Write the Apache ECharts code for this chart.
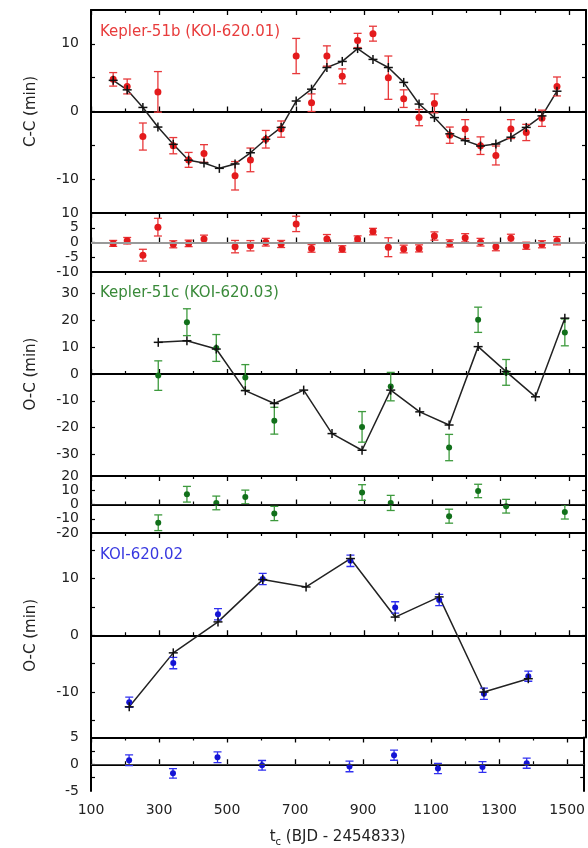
<!DOCTYPE html>
<html><head><meta charset="utf-8">
<script src="https://cdn.jsdelivr.net/npm/echarts@6/dist/echarts.min.js"></script>
<style>html,body{margin:0;padding:0;background:#fff}#c{width:588px;height:848px}</style>
</head><body><div id="c"></div>
<script>
// ---------- Kepler-51b (KOI-620.01) ----------
const tB = [165,206,252,296,341,386,431,476,522,567,612,657,701,746,791,836,881,926,971,1016,1061,1106,1151,1196,1241,1286,1330,1375,1421,1465];
const modelB = [4.6,3.2,0.6,-2.3,-4.85,-7.2,-7.6,-8.4,-7.75,-6.1,-4.1,-2.35,1.55,3.3,6.5,7.4,9.3,7.7,6.5,4.3,1.1,-0.9,-3.3,-4.3,-5.1,-4.8,-3.8,-2.35,-0.65,3.0];
const obsB = [4.75,3.7,-3.7,2.9,-5.05,-7.15,-6.2,null,-9.5,-7.15,-4.1,-2.6,8.2,1.3,8.2,5.2,10.5,11.5,5.0,1.9,-0.9,1.2,-3.5,-2.6,-5.05,-6.5,-2.6,-3.1,-1.0,3.7];
const errB = [1.0,1.1,2.0,3.0,1.2,1.1,1.3,null,2.1,1.75,1.3,1.2,2.6,1.3,1.5,1.1,1.05,1.1,3.2,1.3,1.2,1.4,1.2,1.4,1.3,1.4,1.4,1.2,1.2,1.4];
const resB = [-0.3,0.6,-4.3,5.2,-0.6,-0.3,1.2,null,-1.4,-1.1,0.1,-0.5,6.3,-2.0,1.2,-2.2,1.2,3.7,-1.6,-2.2,-2.0,2.2,-0.3,1.6,0.1,-1.4,1.4,-1.1,-0.6,0.6];

// ---------- Kepler-51c (KOI-620.03) ----------
const tC = [297,381,467,552,637,723,806,894,978,1063,1149,1234,1316,1402,1488];
const modelC = [11.8,12.4,9.3,-6.2,-11.0,-6.0,-22.2,-28.4,-6.0,-14.1,-19.0,10.2,0.9,-8.5,20.8];
const obsC = [-0.6,19.3,9.7,-1.3,-17.4,null,null,-19.7,-4.7,null,-27.4,20.2,0.6,null,15.5];
const errC = [5.5,5.0,5.0,4.8,5.0,null,null,5.7,5.3,null,4.9,4.7,4.8,null,5.0];
const resC = [-12.8,7.2,1.1,5.3,-6.3,null,null,8.4,1.1,null,-8.2,9.5,-1.2,null,-5.2];
const rerrC = [5.5,5.5,4.8,4.8,5.0,null,null,5.5,5.3,null,4.9,4.7,4.8,null,5.0];

// ---------- KOI-620.02 ----------
const tD = [212,341,472,603,730,860,991,1120,1251,1381];
const modelD = [-12.6,-3.1,2.35,9.8,8.5,13.5,3.2,6.75,-10.0,-7.65];
const obsD = [-11.8,-4.9,3.7,9.9,null,13.1,4.9,6.2,-10.3,-7.2];
const errD = [0.9,1.0,1.0,1.0,null,1.0,1.0,1.0,1.0,0.9];
const resD = [0.75,-1.7,1.3,-0.2,null,-0.4,1.7,-0.8,-0.5,0.2];
const rerrD = [1.0,0.9,1.0,0.9,null,1.0,0.95,0.95,1.0,0.95];

// ---------- tick labels ----------
const xMajor = [100,300,500,700,900,1100,1300,1500];
const xMinor = [200,400,600,800,1000,1200,1400];
const yLab1 = [-10,0,10],  yTick1 = [-10,-5,0,5,10];
const yLab2 = [-10,-5,0,5,10], yTick2 = [-5,0,5];
const yLab3 = [-30,-20,-10,0,10,20,30], yTick3 = [-30,-20,-10,0,10,20,30];
const yLab4 = [-20,-10,0,10,20], yTick4 = [-10,0,10];
const yLab5 = [-10,0,10], yTick5 = [-15,-10,-5,0,5,10,15];
const yLab6 = [-5,0,5], yTick6 = [-2.5,0,2.5];

const FONT = 'DejaVu Sans';
const panels = [
  {top:10,   h:203,   min:-15, max:15, lab:yLab1, tick:yTick1, name:'C-C (min)'},
  {top:213,  h:59,    min:-10, max:10, lab:yLab2, tick:yTick2},
  {top:272,  h:204,   min:-38, max:38, lab:yLab3, tick:yTick3, name:'O-C (min)'},
  {top:476,  h:57,    min:-20, max:20, lab:yLab4, tick:yTick4},
  {top:533,  h:204.5, min:-18, max:18, lab:yLab5, tick:yTick5, name:'O-C (min)'},
  {top:737.5,h:57.5,  min:-5,  max:5,  lab:yLab6, tick:yTick6}
];

const grids = [], xAxes = [], yAxes = [];
const plain = v => String(v);
panels.forEach((p, g) => {
  grids.push({left:91, width:495, top:p.top, height:p.h, containLabel:false});
  const last = g === panels.length - 1;
  const lineS = {show:true, lineStyle:{color:'#000', width:2}};
  ['bottom','top'].forEach(pos => {
    xAxes.push({type:'value', gridIndex:g, position:pos, min:100, max:1550,
      axisLine: lineS, splitLine:{show:false},
      axisTick:{show:true, inside:true, length:5, customValues:xMajor, lineStyle:{color:'#000',width:1.3}},
      axisLabel:{show: last && pos==='bottom', customValues:xMajor, margin:12, formatter:plain,
        fontFamily:FONT, fontSize:14, color:'#222'},
      name: (last && pos==='bottom') ? '{t|t}{s|c}{t| (BJD - 2454833)}' : '',
      nameLocation:'middle', nameGap:36,
      nameTextStyle:{fontFamily:FONT, color:'#222', rich:{
        t:{fontFamily:FONT, fontSize:15, color:'#222', lineHeight:20, verticalAlign:'middle'},
        s:{fontFamily:FONT, fontSize:10, color:'#222', lineHeight:10, verticalAlign:'bottom'}}}
    });
    xAxes.push({type:'value', gridIndex:g, position:pos, min:100, max:1550,
      axisLine:{show:false}, splitLine:{show:false}, axisLabel:{show:false},
      axisTick:{show:true, inside:true, length:3, customValues:xMinor, lineStyle:{color:'#000',width:1.2}}
    });
  });
  ['left','right'].forEach(pos => {
    yAxes.push({type:'value', gridIndex:g, position:pos, min:p.min, max:p.max,
      axisLine: lineS, splitLine:{show:false},
      axisTick:{show:true, inside:true, length:4, customValues:p.tick, lineStyle:{color:'#000',width:1.2}},
      axisLabel:{show: pos==='left', customValues:p.lab, margin:12, formatter:plain,
        fontFamily:FONT, fontSize:14, color:'#222'},
      name: (pos==='left' && p.name) ? p.name : '',
      nameLocation:'middle', nameGap:52, nameRotate:90,
      nameTextStyle:{fontFamily:FONT, fontSize:15, color:'#222'}
    });
  });
});

function pts(t, v) { const r=[]; t.forEach((x,i)=>{ if (v[i]!=null) r.push([x, v[i]]); }); return r; }
function epts(t, v, e) { const r=[]; t.forEach((x,i)=>{ if (v[i]!=null) r.push([x, v[i], e[i]]); }); return r; }

function errSeries(g, data, color, cap) {
  return {type:'custom', xAxisIndex:4*g, yAxisIndex:2*g, data, clip:true, z:3,
    renderItem(params, api) {
      const x = api.value(0), y = api.value(1), e = api.value(2);
      const a = api.coord([x, y + e]), b = api.coord([x, y - e]);
      const h = cap / 2, st = {stroke:color, lineWidth:1.3};
      return {type:'group', children:[
        {type:'line', shape:{x1:a[0], y1:a[1], x2:b[0], y2:b[1]}, style:st},
        {type:'line', shape:{x1:a[0]-h, y1:a[1], x2:a[0]+h, y2:a[1]}, style:st},
        {type:'line', shape:{x1:b[0]-h, y1:b[1], x2:b[0]+h, y2:b[1]}, style:st}
      ]};
    }};
}
function plusSeries(g, data) {
  return {type:'custom', xAxisIndex:4*g, yAxisIndex:2*g, data, z:5,
    renderItem(params, api) {
      const c = api.coord([api.value(0), api.value(1)]), h = 4.5;
      const st = {stroke:'#111', lineWidth:1.5};
      return {type:'group', children:[
        {type:'line', shape:{x1:c[0]-h, y1:c[1], x2:c[0]+h, y2:c[1]}, style:st},
        {type:'line', shape:{x1:c[0], y1:c[1]-h, x2:c[0], y2:c[1]+h}, style:st}
      ]};
    }};
}
function lineSeries(g, data) {
  return {type:'line', xAxisIndex:4*g, yAxisIndex:2*g, data, showSymbol:false, z:2,
    lineStyle:{color:'#222', width:1.5}, silent:true, animation:false};
}
function dotSeries(g, data, color, size, zero) {
  const s = {type:'scatter', xAxisIndex:4*g, yAxisIndex:2*g, data, symbol:'circle', symbolSize:size,
    itemStyle:{color, opacity:1}, z:4, silent:true};
  if (zero) s.markLine = {silent:true, symbol:'none', label:{show:false}, animation:false,
    lineStyle:{color:zero.color, width:zero.width, type:'solid'}, data:[{yAxis:0}]};
  return s;
}

const RED='#e41a1c', REDB='#e8383a', GRN='#11701a', GRNB='#3d9a3d', BLU='#1414d4', BLUB='#3030f0';

const series = [
  lineSeries(0, pts(tB, modelB)),
  errSeries(0, epts(tB, obsB, errB), REDB, 8),
  dotSeries(0, pts(tB, obsB), RED, 7),
  plusSeries(0, pts(tB, modelB)),
  errSeries(1, epts(tB, resB, errB), REDB, 8),
  dotSeries(1, pts(tB, resB), RED, 7, {color:'#999', width:2}),
  lineSeries(2, pts(tC, modelC)),
  errSeries(2, epts(tC, obsC, errC), GRNB, 8),
  dotSeries(2, pts(tC, obsC), GRN, 6),
  plusSeries(2, pts(tC, modelC)),
  errSeries(3, epts(tC, resC, rerrC), GRNB, 8),
  dotSeries(3, pts(tC, resC), GRN, 6, {color:'#222', width:1}),
  lineSeries(4, pts(tD, modelD)),
  errSeries(4, epts(tD, obsD, errD), BLUB, 8),
  dotSeries(4, pts(tD, obsD), BLU, 6),
  plusSeries(4, pts(tD, modelD)),
  errSeries(5, epts(tD, resD, rerrD), BLUB, 8),
  dotSeries(5, pts(tD, resD), BLU, 6, {color:'#444', width:1})
];

const graphic = [
  {type:'text', left:100, top:25, style:{text:'Kepler-51b (KOI-620.01)', fill:'#e83c3c', font:'15px "DejaVu Sans"'}},
  {type:'text', left:100, top:286, style:{text:'Kepler-51c (KOI-620.03)', fill:'#3a8a3a', font:'15px "DejaVu Sans"'}},
  {type:'text', left:100, top:548, style:{text:'KOI-620.02', fill:'#3838e0', font:'15px "DejaVu Sans"'}}
];

const chart = echarts.init(document.getElementById('c'), null, {renderer:'canvas'});
chart.setOption({animation:false, backgroundColor:'#fff', grid:grids, xAxis:xAxes, yAxis:yAxes, series, graphic});
</script></body></html>
